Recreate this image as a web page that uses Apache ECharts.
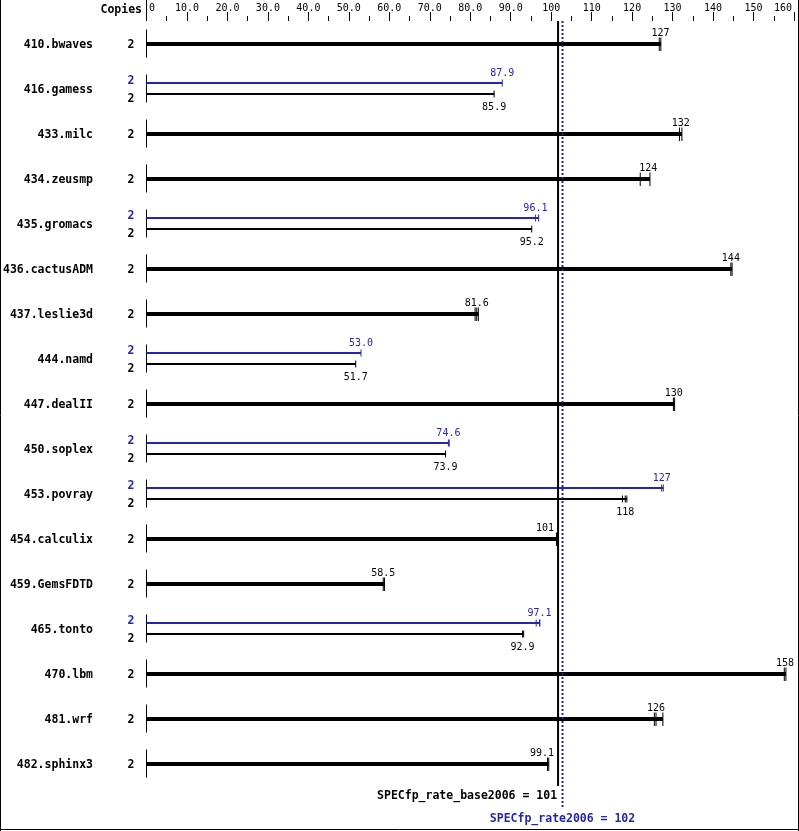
<!DOCTYPE html>
<html>
<head>
<meta charset="utf-8">
<script src="https://cdn.jsdelivr.net/npm/echarts@6/dist/echarts.min.js"></script>
<style>
html,body{margin:0;padding:0;background:#fff;}
#chart{width:799px;height:831px;}
</style>
</head>
<body>
<div id="chart"></div>
<script>
// ---- data ----
const benchmarks = ['410.bwaves','416.gamess','433.milc','434.zeusmp','435.gromacs','436.cactusADM','437.leslie3d','444.namd','447.dealII','450.soplex','453.povray','454.calculix','459.GemsFDTD','465.tonto','470.lbm','481.wrf','482.sphinx3'];
const baseCopies = [2,2,2,2,2,2,2,2,2,2,2,2,2,2,2,2,2];
const peakCopies = [null,2,null,null,2,null,null,2,null,2,2,null,null,2,null,null,null];
const baseScores = [127, 85.9, 132, 124, 95.2, 144.4, 81.6, 51.7, 130.3, 73.9, 118.3, 101.3, 58.5, 92.9, 157.8, 125.9, 99.1];
const peakScores = [null, 87.9, null, null, 96.1, null, null, 53.0, null, 74.6, 127.3, null, null, 97.1, null, null, null];
const baseRuns = [[126.7,127.1],[85.9],[131.7,132.3],[122.0,124.4],[95.2],[144.4,144.7],[81.2,81.6,82.0],[51.7],[130.2,130.5],[73.9],[117.6,118.3,118.7],[101.3,101.5],[58.5,58.8],[92.9,93.2],[157.6,158.0],[125.5,125.9,127.6],[99.1,99.4]];
const peakRuns = [null,[87.9],null,null,[96.1,96.9],null,null,[53.0],null,[74.6,74.8],[127.3,127.7],null,null,[96.3,97.1,97.2],null,null,null];
const summaryNames = ['SPECfp_rate_base2006','SPECfp_rate2006'];
const summaryScores = ['101','102'];
const summaryLinePos = [101.7, 102.8];
const axisMax = 160;
const axisStep = 10;

// ---- styles ----
const BLUE = '#2525b0';
const MONO = '"DejaVu Sans Mono", "Liberation Mono", monospace';
const FONT_B = 'bold 11.5px ' + MONO;
const FONT_N = '10px ' + MONO;
const TY = 1.5;

function fmt(v){ return v >= 100 ? String(Math.round(v)) : v.toFixed(1); }
function txt(text, x, y, align, font, fill){
  return {type:'text', silent:true, style:{text:text, x:x, y:y + TY, align:align, verticalAlign:'middle', textAlign:align, textVerticalAlign:'middle', font:font, fill:fill}};
}
function vline(x, y1, y2, color, w){
  return {type:'line', silent:true, shape:{x1:x, y1:y1, x2:x, y2:y2}, style:{stroke:color, lineWidth:w||1}};
}
function hbar(x1, x2, yc, h, color){
  return {type:'rect', silent:true, shape:{x:x1, y:yc - h/2, width:Math.max(0, x2 - x1), height:h}, style:{fill:color}};
}

const chart = echarts.init(document.getElementById('chart'), null, {renderer:'canvas'});

function valueLabel(api, i, v, y, color){
  const cx = api.coord([v, i])[0];
  const lineX = api.coord([summaryLinePos[0], i])[0];
  const s = fmt(v);
  const w = s.length * 6;
  if (cx + w/2 > lineX - 3 && cx - w/2 < lineX + 3) {
    return txt(s, lineX - 4, y, 'right', FONT_N, color);
  }
  return txt(s, cx, y, 'center', FONT_N, color);
}

function renderRow(params, api){
  const i = api.value(0);
  const p0 = api.coord([0, i]);
  const x0 = p0[0], c = p0[1];
  const ch = [];
  ch.push(vline(x0, c - 14, c + 14, '#000', 1));
  ch.push(txt(benchmarks[i], 93, c, 'right', FONT_B, '#000'));
  const X = v => api.coord([v, i])[0];
  if (peakScores[i] == null) {
    const yb = c + 0.5;
    ch.push(hbar(x0, X(baseScores[i]), yb, 4, '#000'));
    const r = baseRuns[i];
    ch.push(hbar(X(Math.min(...r)), X(Math.max(...r)), yb, 4, '#000'));
    r.forEach(v => ch.push(vline(X(v), c - 6, c + 7.5, '#000', 1)));
    ch.push(valueLabel(api, i, baseScores[i], c - 11.5, '#000'));
    ch.push(txt(String(baseCopies[i]), 131, c, 'center', FONT_B, '#000'));
  } else {
    const yp = c - 5.5, yb = c + 5.5;
    ch.push(hbar(x0, X(peakScores[i]), yp, 2, BLUE));
    const rp = peakRuns[i];
    ch.push(hbar(X(Math.min(...rp)), X(Math.max(...rp)), yp, 2, BLUE));
    rp.forEach(v => ch.push(vline(X(v), c - 9, c - 2, BLUE, 1)));
    ch.push(valueLabel(api, i, peakScores[i], c - 16.5, BLUE));
    ch.push(txt(String(peakCopies[i]), 131, c - 8.5, 'center', FONT_B, BLUE));

    ch.push(hbar(x0, X(baseScores[i]), yb, 2, '#000'));
    const rb = baseRuns[i];
    ch.push(hbar(X(Math.min(...rb)), X(Math.max(...rb)), yb, 2, '#000'));
    rb.forEach(v => ch.push(vline(X(v), c + 2, c + 9, '#000', 1)));
    ch.push(valueLabel(api, i, baseScores[i], c + 17.5, '#000'));
    ch.push(txt(String(baseCopies[i]), 131, c + 9, 'center', FONT_B, '#000'));
  }
  return {type:'group', children:ch};
}

function renderSummary(params, api){
  const top = api.coord([0, -0.5]);
  const bottom = api.coord([0, benchmarks.length - 0.5])[1];
  const bx = api.coord([summaryLinePos[0], 0])[0];
  const px = api.coord([summaryLinePos[1], 0])[0];
  const ch = [];
  ch.push(vline(top[0], 0, top[1], '#000', 1));
  ch.push(vline(bx, top[1], bottom, '#000', 2));
  ch.push({type:'line', silent:true, shape:{x1:px, y1:top[1], x2:px, y2:bottom + 21}, style:{stroke:BLUE, lineWidth:2, lineDash:[2,2]}});
  ch.push(txt(summaryNames[0] + ' = ' + summaryScores[0], bx - 1, bottom + 8.5, 'right', FONT_B, '#000'));
  ch.push(txt(summaryNames[1] + ' = ' + summaryScores[1], px, bottom + 31.5, 'center', FONT_B, BLUE));
  return {type:'group', children:ch};
}

const option = {
  backgroundColor:'#fff',
  animation:false,
  grid:{left:146.5, top:21, width:647.5, height:765, containLabel:false, outerBoundsMode:'none'},
  xAxis:{
    type:'value', position:'top', min:0, max:axisMax, interval:axisStep,
    axisLine:{show:false, onZero:false},
    axisTick:{show:true, length:9, lineStyle:{color:'#000', width:1}},
    minorTick:{show:true, splitNumber:2, length:5, lineStyle:{color:'#000', width:1}},
    splitLine:{show:false},
    minorSplitLine:{show:false},
    axisLabel:{
      margin:8, fontSize:10, fontFamily:'DejaVu Sans Mono', color:'#000',
      formatter: v => v === 0 ? '{z|0}' : (v === axisMax ? '{e|' + v + '}' : (v < 100 ? v.toFixed(1) : String(v))),
      rich:{
        z:{fontSize:10, fontFamily:'DejaVu Sans Mono', color:'#000', padding:[0,0,0,11]},
        e:{fontSize:10, fontFamily:'DejaVu Sans Mono', color:'#000', padding:[0,22,0,0]}
      }
    }
  },
  yAxis:{type:'value', inverse:true, min:-0.5, max:benchmarks.length - 0.5, show:false},
  graphic:[
    {type:'text', style:{text:'Copies', x:142, y:9 + TY, align:'right', verticalAlign:'middle', textAlign:'right', textVerticalAlign:'middle', font:FONT_B, fill:'#000'}},
    {type:'line', shape:{x1:0.5, y1:0, x2:0.5, y2:831}, style:{stroke:'#000', lineWidth:1}},
    {type:'line', shape:{x1:798.5, y1:0, x2:798.5, y2:831}, style:{stroke:'#000', lineWidth:1}},
    {type:'line', shape:{x1:0, y1:829.5, x2:799, y2:829.5}, style:{stroke:'#000', lineWidth:1}}
  ],
  series:[
    {type:'custom', renderItem:renderRow, clip:false, data:benchmarks.map((b, i) => [i]), encode:{x:-1, y:0}},
    {type:'custom', renderItem:renderSummary, clip:false, data:[[0]], encode:{x:-1, y:0}, z:5}
  ]
};
chart.setOption(option);
</script>
</body>
</html>
